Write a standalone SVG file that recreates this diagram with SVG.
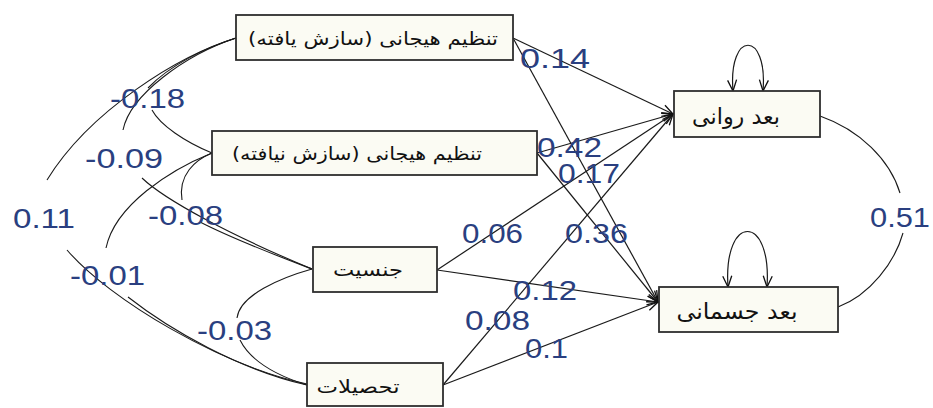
<svg xmlns="http://www.w3.org/2000/svg" width="933" height="408" viewBox="0 0 933 408">
  <style>
    .box { fill: #fbfbf3; stroke: #2e2e2e; stroke-width: 1.8; }
    .fa { font-family: "DejaVu Sans", "Noto Sans", sans-serif; fill: #111; direction: rtl; unicode-bidi: embed; text-anchor: middle; }
    .edge { fill: none; stroke: #1a1a1a; stroke-width: 1.2; }
    .cov { fill: none; stroke: #1a1a1a; stroke-width: 1.1; }
    .lbl { font-family: "Liberation Sans", Arial, sans-serif; font-size: 27px; fill: #2a3f80; }
  </style>
  <defs>
    <marker id="vhead" markerUnits="userSpaceOnUse" markerWidth="14" markerHeight="12" viewBox="-1 -6 13 12" refX="11" refY="0" orient="auto-start-reverse">
      <path d="M0,-4.5 L11,0 L0,4.5" fill="none" stroke="#111" stroke-width="1.3"/>
    </marker>
  </defs>
  <rect width="933" height="408" fill="#ffffff"/>

  <!-- connectors -->
  <g id="connectors">
    <!-- regressions -->
    <line class="edge" x1="513" y1="38" x2="673" y2="114" marker-end="url(#vhead)"/>
    <line class="edge" x1="513" y1="38" x2="658" y2="302" marker-end="url(#vhead)"/>
    <line class="edge" x1="537" y1="153" x2="673" y2="114" marker-end="url(#vhead)"/>
    <line class="edge" x1="537" y1="153" x2="658" y2="302" marker-end="url(#vhead)"/>
    <line class="edge" x1="437" y1="270" x2="673" y2="114" marker-end="url(#vhead)"/>
    <line class="edge" x1="437" y1="270" x2="658" y2="302" marker-end="url(#vhead)"/>
    <line class="edge" x1="443" y1="385" x2="673" y2="114" marker-end="url(#vhead)"/>
    <line class="edge" x1="443" y1="385" x2="658" y2="302" marker-end="url(#vhead)"/>

    <!-- residual variances -->
    <path class="edge" d="M733,91 C728,30 768,30 763,91" marker-start="url(#vhead)" marker-end="url(#vhead)"/>
    <path class="edge" d="M728,287 C723,213 772,213 767,287" marker-start="url(#vhead)" marker-end="url(#vhead)"/>

    <!-- residual covariance -->
    <path class="cov" d="M820,116 C860,130 890,160 900,193"/>
    <path class="cov" d="M903,233 C895,262 870,295 838,307"/>

    <!-- exogenous covariances -->
    <path class="cov" d="M236,38 C180,55 90,110 47,180"/>
    <path class="cov" d="M67,250 C110,300 220,365 307,384"/>
    <path class="cov" d="M236,38 C205,48 170,65 148,88"/>
    <path class="cov" d="M152,110 C160,125 185,142 212,153"/>
    <path class="cov" d="M236,38 C185,55 130,95 123,130"/>
    <path class="cov" d="M142,178 C165,200 230,235 312,269"/>
    <path class="cov" d="M212,153 C195,160 178,175 182,200"/>
    <path class="cov" d="M200,222 C235,240 275,255 312,269"/>
    <path class="cov" d="M212,153 C170,170 115,205 106,248"/>
    <path class="cov" d="M128,297 C170,330 240,370 307,385"/>
    <path class="cov" d="M312,269 C280,278 240,295 237,318"/>
    <path class="cov" d="M240,340 C250,360 275,375 307,385"/>
  </g>

  <!-- coefficient labels -->
  <g id="labels">
    <text class="lbl" x="110" y="108" textLength="75" lengthAdjust="spacingAndGlyphs">-0.18</text>
    <text class="lbl" x="85" y="168" textLength="78" lengthAdjust="spacingAndGlyphs">-0.09</text>
    <text class="lbl" x="13" y="228" textLength="62" lengthAdjust="spacingAndGlyphs">0.11</text>
    <text class="lbl" x="148" y="225" textLength="75" lengthAdjust="spacingAndGlyphs">-0.08</text>
    <text class="lbl" x="70" y="285" textLength="75" lengthAdjust="spacingAndGlyphs">-0.01</text>
    <text class="lbl" x="197" y="340" textLength="75" lengthAdjust="spacingAndGlyphs">-0.03</text>
    <text class="lbl" x="520" y="68" textLength="70" lengthAdjust="spacingAndGlyphs">0.14</text>
    <text class="lbl" x="537" y="157" textLength="65" lengthAdjust="spacingAndGlyphs">0.42</text>
    <text class="lbl" x="558" y="183" textLength="62" lengthAdjust="spacingAndGlyphs">0.17</text>
    <text class="lbl" x="462" y="243" textLength="61" lengthAdjust="spacingAndGlyphs">0.06</text>
    <text class="lbl" x="565" y="243" textLength="63" lengthAdjust="spacingAndGlyphs">0.36</text>
    <text class="lbl" x="513" y="300" textLength="64" lengthAdjust="spacingAndGlyphs">0.12</text>
    <text class="lbl" x="465" y="330" textLength="65" lengthAdjust="spacingAndGlyphs">0.08</text>
    <text class="lbl" x="525" y="358" textLength="43" lengthAdjust="spacingAndGlyphs">0.1</text>
    <text class="lbl" x="870" y="227" textLength="60" lengthAdjust="spacingAndGlyphs">0.51</text>
  </g>

  <!-- nodes -->
  <g id="node-er-adaptive">
    <rect class="box" x="236" y="15" width="277" height="45"/>
    <text class="fa" x="373" y="45" font-size="18" textLength="250" lengthAdjust="spacingAndGlyphs">تنظیم هیجانی (سازش یافته)</text>
  </g>
  <g id="node-er-maladaptive">
    <rect class="box" x="212" y="131" width="325" height="44"/>
    <text class="fa" x="357" y="160" font-size="18" textLength="250" lengthAdjust="spacingAndGlyphs">تنظیم هیجانی (سازش نیافته)</text>
  </g>
  <g id="node-gender">
    <rect class="box" x="313" y="247" width="124" height="45"/>
    <text class="fa" x="368" y="276" font-size="18" textLength="70" lengthAdjust="spacingAndGlyphs">جنسیت</text>
  </g>
  <g id="node-education">
    <rect class="box" x="307" y="363" width="136" height="43"/>
    <text class="fa" x="358" y="393" font-size="18" textLength="83" lengthAdjust="spacingAndGlyphs">تحصیلات</text>
  </g>
  <g id="node-psychological">
    <rect class="box" x="674" y="91" width="146" height="46"/>
    <text class="fa" x="736" y="124" font-size="22" textLength="88" lengthAdjust="spacingAndGlyphs">بعد روانی</text>
  </g>
  <g id="node-physical">
    <rect class="box" x="659" y="287" width="179" height="45"/>
    <text class="fa" x="737" y="319" font-size="22" textLength="121" lengthAdjust="spacingAndGlyphs">بعد جسمانی</text>
  </g>
</svg>
